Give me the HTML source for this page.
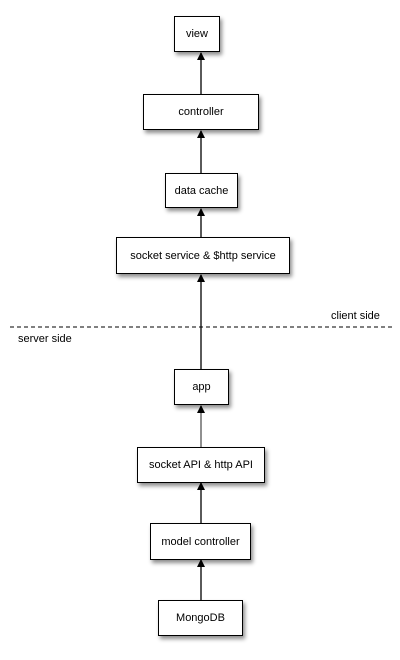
<!DOCTYPE html>
<html><head><style>
body{margin:0;background:#fff;}
.b{position:absolute;box-sizing:border-box;border:1.3px solid #000;background:#fff;font:11px "Liberation Sans",sans-serif;display:flex;align-items:center;justify-content:center;box-shadow:2px 3px 4px rgba(0,0,0,0.45);}
.t{position:absolute;font:11px "Liberation Sans",sans-serif;}
</style></head><body>
<div style="position:relative;width:400px;height:660px;overflow:hidden">
<svg width="400" height="660" style="position:absolute;left:0;top:0">
<defs><marker id="a" markerWidth="8" markerHeight="10" refX="7" refY="4" orient="auto" markerUnits="userSpaceOnUse"><path d="M0,0 L8,4 L0,8 z" fill="#000"/></marker></defs>
<g stroke="#000" stroke-width="1.3" marker-end="url(#a)">
<line x1="201" y1="94" x2="201" y2="53"/>
<line x1="201" y1="173" x2="201" y2="131"/>
<line x1="201" y1="237" x2="201" y2="209"/>
<line x1="201" y1="369" x2="201" y2="275"/>
<line x1="201" y1="447" x2="201" y2="406" stroke="#555"/>
<line x1="201" y1="523" x2="201" y2="483"/>
<line x1="201" y1="600" x2="201" y2="560"/>
</g>
<line x1="10" y1="327" x2="392" y2="327" stroke="#000" stroke-width="1" stroke-dasharray="4,3"/>
</svg>
<div class="b" style="left:174px;top:16px;width:46px;height:36px">view</div>
<div class="b" style="left:143px;top:94px;width:116px;height:36px">controller</div>
<div class="b" style="left:165px;top:173px;width:73px;height:35px">data cache</div>
<div class="b" style="left:116px;top:237px;width:174px;height:37px">socket service &amp; $http service</div>
<div class="t" style="left:331px;top:310px">client side</div>
<div class="t" style="left:18px;top:333px">server side</div>
<div class="b" style="left:174px;top:369px;width:55px;height:36px">app</div>
<div class="b" style="left:137px;top:447px;width:128px;height:36px">socket API &amp; http API</div>
<div class="b" style="left:150px;top:523px;width:101px;height:37px">model controller</div>
<div class="b" style="left:158px;top:600px;width:85px;height:36px">MongoDB</div>
</div>
</body></html>
